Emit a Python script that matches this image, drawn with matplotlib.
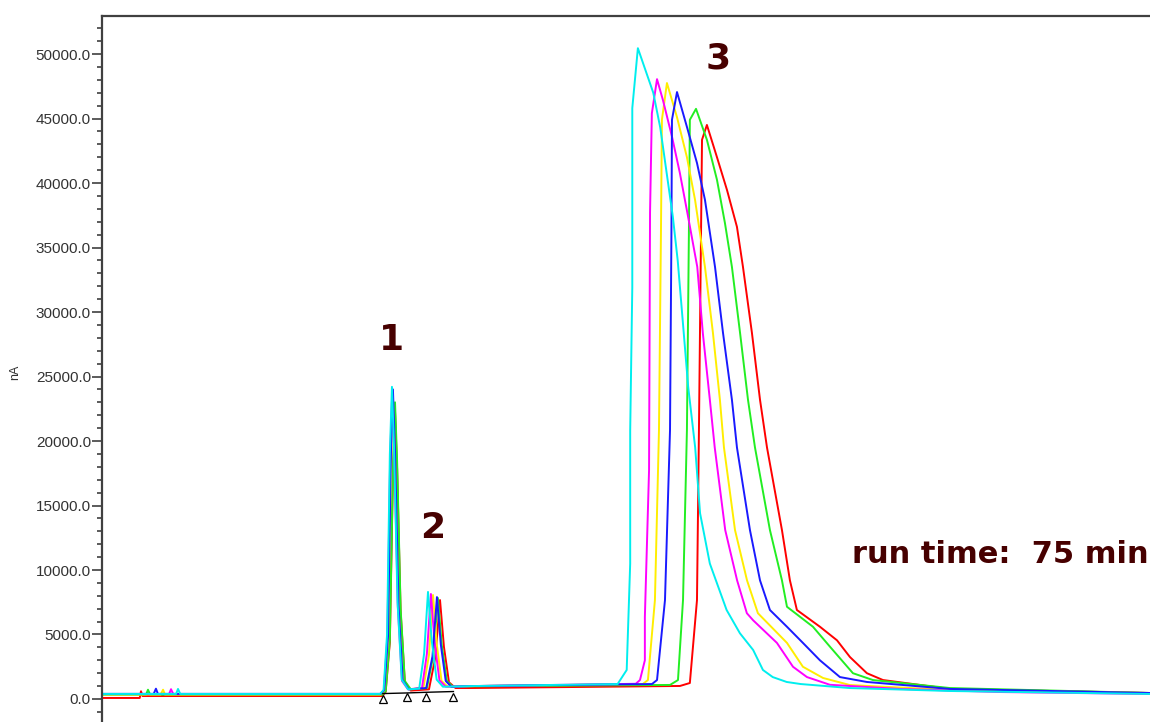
import matplotlib
matplotlib.use("Agg")
import matplotlib.pyplot as plt
from matplotlib.ticker import MultipleLocator, FormatStrFormatter

# retention time (min) and detector signal (nA)
cyan_t = [0.1, 5.3, 5.44, 5.6, 19.9, 20.15, 20.4, 20.6, 20.75, 20.9, 21.15, 21.45, 21.9,
          22.7, 23.05, 23.33, 23.6, 23.95, 24.4, 26.3, 36.9, 37.55, 37.8, 37.8, 37.95,
          37.95, 38.35, 39.45, 39.95, 40.85, 41.2, 41.6, 41.95, 42.45, 42.8, 43.5, 44.7,
          45.65, 46.6, 47.3, 48.0, 49.0, 50.0, 53.5, 60.7, 75.0]
cyan_nA = [390, 390, 780, 390, 390, 700, 5000, 19000, 24200, 19500, 7500, 1500, 750,
           800, 3500, 8300, 4500, 1500, 950, 1000, 1160, 2250, 10500, 20800, 31900,
           45800, 50450, 47000, 44300, 37400, 34000, 28800, 24200, 19500, 14400, 10500, 6900,
           5100, 3800, 2250, 1700, 1320, 1160, 850, 620, 390]

magenta_t = [0.1, 4.8, 4.94, 5.1, 19.9, 20.17, 20.42, 20.62, 20.77, 20.92, 21.17, 21.47, 21.9,
             22.9, 23.25, 23.54, 23.8, 24.15, 24.6, 26.3, 37.1, 38.2, 38.5, 38.85, 38.85,
             39.15, 39.22, 39.35, 39.72, 40.15, 40.8, 41.35, 41.95, 42.6, 43.0, 43.5, 43.85,
             44.6, 45.45, 46.15, 46.6, 48.3, 49.45, 50.45, 52.1, 57.1, 64.3, 75.0]
magenta_nA = [380, 380, 760, 380, 380, 650, 4800, 18500, 23800, 19000, 7200, 1400, 750,
              850, 3500, 8140, 4400, 1450, 950, 1000, 1160, 1180, 1470, 3000, 6350,
              17750, 37700, 45400, 48050, 46400, 43550, 40800, 37350, 33500, 28350, 23200, 19500,
              13100, 9200, 6650, 6100, 4350, 2500, 1700, 1100, 780, 540, 390]

yellow_t = [0.1, 4.2, 4.37, 4.5, 19.95, 20.2, 20.47, 20.67, 20.82, 20.97, 21.22, 21.52, 21.95,
            23.0, 23.4, 23.69, 23.95, 24.3, 24.75, 26.3, 38.7, 39.07, 39.57, 39.86, 40.0,
            40.07, 40.43, 41.15, 41.86, 42.44, 43.15, 43.72, 44.22, 44.51, 45.3, 46.16, 46.94,
            49.02, 50.16, 51.6, 53.53, 60.68, 75.0]
yellow_nA = [350, 350, 720, 350, 350, 650, 4700, 18200, 23500, 18800, 7100, 1400, 750,
             850, 3400, 8060, 4300, 1400, 950, 1000, 1160, 1470, 7670, 20850, 36000,
             44900, 47750, 45100, 42000, 38700, 33500, 28400, 23200, 19500, 13100, 9200, 6650,
             4350, 2500, 1630, 1080, 700, 465]

blue_t = [0.1, 3.7, 3.86, 4.0, 19.95, 20.2, 20.47, 20.67, 20.82, 20.97, 21.22, 21.52, 21.95,
          23.2, 23.65, 23.97, 24.25, 24.6, 25.0, 26.3, 39.36, 39.72, 40.29, 40.65, 40.75,
          40.79, 41.15, 41.86, 42.58, 43.15, 43.87, 44.44, 45.08, 45.44, 46.37, 47.09, 47.8,
          49.02, 50.16, 51.38, 52.81, 54.74, 60.68, 75.0]
blue_nA = [400, 400, 800, 400, 400, 700, 4900, 18800, 24000, 19200, 7300, 1450, 750,
           850, 3300, 7900, 4200, 1400, 950, 1000, 1160, 1470, 7670, 20850, 36000,
           44900, 47050, 44350, 41550, 38700, 33500, 28400, 23200, 19500, 13100, 9200, 6900,
           5600, 4350, 3000, 1700, 1320, 780, 465]

green_t = [0.1, 3.15, 3.29, 3.45, 20.05, 20.3, 20.6, 20.82, 20.97, 21.12, 21.37, 21.67, 22.1,
           23.25, 23.7, 24.04, 24.32, 24.68, 25.1, 26.3, 40.65, 41.22, 41.58, 41.86, 42.0,
           42.07, 42.51, 43.29, 44.01, 44.58, 45.08, 45.66, 46.23, 46.73, 47.8, 48.66, 49.02,
           50.88, 52.1, 53.74, 55.17, 60.68, 75.0]
green_nA = [330, 330, 720, 330, 330, 600, 4600, 17800, 23000, 18400, 7000, 1400, 750,
            850, 3300, 7830, 4150, 1400, 950, 980, 1090, 1470, 7670, 20850, 36000,
            44900, 45750, 43350, 40250, 36900, 33500, 28400, 23200, 19500, 13100, 9200, 7150,
            5600, 4050, 2000, 1470, 850, 465]

red_t = [0.1, 2.7, 2.79, 2.9, 20.05, 20.3, 20.6, 20.82, 20.97, 21.12, 21.37, 21.67, 22.1,
         23.4, 23.85, 24.19, 24.47, 24.83, 25.3, 26.3, 41.36, 42.07, 42.58, 42.72, 42.94,
         43.29, 44.01, 44.73, 45.44, 45.87, 46.51, 47.09, 47.59, 48.66, 49.23, 49.73,
         51.38, 52.6, 53.53, 54.74, 55.89, 60.68, 75.0]
red_nA = [80, 80, 600, 230, 230, 550, 4400, 17300, 22300, 17800, 6800, 1350, 650,
          750, 3200, 7670, 4050, 1300, 850, 850, 1010, 1240, 7670, 20850, 43350,
          44500, 42000, 39450, 36600, 33500, 28400, 23200, 19500, 13100, 9200, 6900,
          5600, 4550, 3250, 2000, 1470, 780, 465]

# integration baseline with its peak start/end marks
base_t = [20.1, 21.85, 23.2, 25.15]
base_nA = [420, 470, 520, 580]
mark_nA = [0, 120, 120, 170]

peak_labels = ["1", "2", "3"]
peak_label_t = [20.75, 23.69, 44.08]
peak_label_nA = [27830, 13256, 49690]

traces = [
    (red_t, red_nA, "#ff0000"),
    (green_t, green_nA, "#22ee22"),
    (yellow_t, yellow_nA, "#ffee00"),
    (magenta_t, magenta_nA, "#ff00ff"),
    (blue_t, blue_nA, "#1a1aff"),
    (cyan_t, cyan_nA, "#00eeee"),
]

fig = plt.figure(figsize=(11.5, 7.22), dpi=100)
ax = fig.add_axes([102 / 1150, 0.0, 1 - 102 / 1150, 1 - 16 / 722])

for t, y, c in traces:
    ax.plot(t, y, color=c, linewidth=1.4)

ax.plot(base_t, base_nA, color="black", linewidth=1.0)
ax.plot(base_t, mark_nA, linestyle="none", marker="^", markersize=6,
        markerfacecolor="white", markeredgecolor="black", markeredgewidth=0.9)

for lab, t, y in zip(peak_labels, peak_label_t, peak_label_nA):
    ax.text(t, y, lab, fontsize=26, fontweight="bold", color="#470000",
            ha="center", va="center", family="DejaVu Sans")
ax.text(53.67, 11163, "run time:  75 min", fontsize=22, fontweight="bold",
        color="#470000", ha="left", va="center", family="DejaVu Sans")

ax.set_xlim(0, 75)
ax.set_ylim(-1783, 52946)

ax.yaxis.set_major_locator(MultipleLocator(5000))
ax.yaxis.set_minor_locator(MultipleLocator(1000))
ax.yaxis.set_major_formatter(FormatStrFormatter("%.1f"))
ax.tick_params(axis="y", which="major", direction="out", length=7, width=1.2,
               color="#404040", labelsize=11, labelcolor="#333333", pad=1)
ax.tick_params(axis="y", which="minor", direction="out", length=3.5, width=1.2,
               color="#404040")
for lab in ax.get_yticklabels():
    lab.set_family("Liberation Sans")
ax.set_xticks([])

ax.spines["bottom"].set_visible(False)
ax.spines["right"].set_visible(False)
for s in ("top", "left"):
    ax.spines[s].set_color("#404040")
    ax.spines[s].set_linewidth(1.6)

fig.text(15 / 1150, 1 - 372 / 722, "nA", rotation=90, ha="center", va="center",
         fontsize=9, color="#333333", family="Liberation Sans")

fig.savefig("out.png", dpi=100)
